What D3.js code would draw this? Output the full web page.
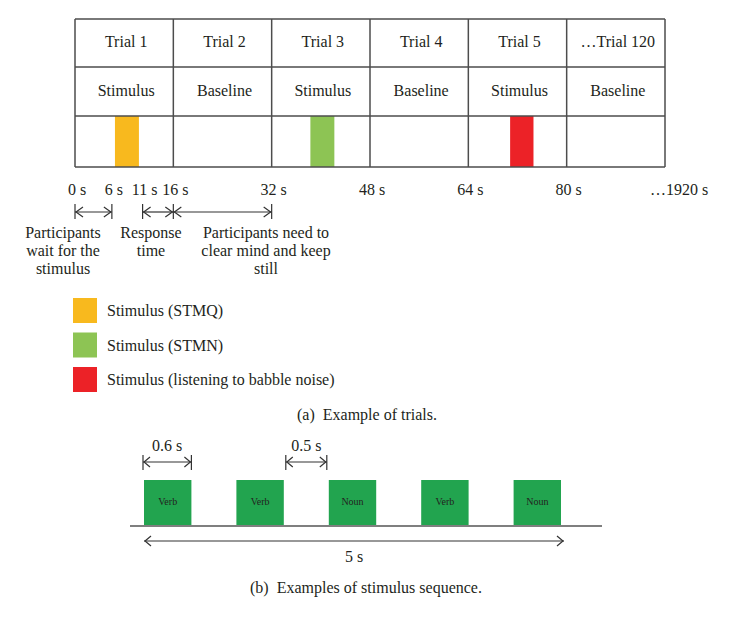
<!DOCTYPE html>
<html>
<head>
<meta charset="utf-8">
<script src="https://cdn.jsdelivr.net/npm/d3@7"></script>
<style>
  html, body { margin: 0; padding: 0; background: #fff; }
  svg text { font-family: "Liberation Serif", "DejaVu Serif", serif; fill: #231f20; }
</style>
</head>
<body>
<svg id="chart" width="750" height="617"></svg>
<script>
// ---------- data ----------
const trialLabels = ["Trial 1", "Trial 2", "Trial 3", "Trial 4", "Trial 5", "\u2026Trial 120"];
const trialConditions = ["Stimulus", "Baseline", "Stimulus", "Baseline", "Stimulus", "Baseline"];
const trialDuration = 16; // seconds per trial

const stimTrialIndex = [0, 2, 4];
const stimStart = [6.5, 6.3, 6.8];   // seconds after trial onset
const stimEnd = [10.4, 10.2, 10.6];
const stimColors = ["#f8b91e", "#8dc454", "#ec2227"];

const timeTicks = [0, 6, 11, 16, 32, 48, 64, 80];
const timeTickLabels = ["0 s", "6 s", "11 s", "16 s", "32 s", "48 s", "64 s", "80 s"];
const finalTickLabel = "\u20261920 s";

const phaseStart = [0, 11, 16];
const phaseEnd = [6, 16, 32];
const phaseLabels = [
  ["Participants", "wait for the", "stimulus"],
  ["Response", "time"],
  ["Participants need to", "clear mind and keep", "still"]
];
const phaseLabelCenter = [63, 151, 266];

const legendLabels = ["Stimulus (STMQ)", "Stimulus (STMN)", "Stimulus (listening to babble noise)"];

const seqWords = ["Verb", "Verb", "Noun", "Verb", "Noun"];
const seqStimDur = 0.6;
const seqGap = 0.5;
const seqTotal = 5;

// ---------- drawing ----------
const svg = d3.select("#chart");
const lineCol = "#4d4d4d";

// Part (a)
const x = d3.scaleLinear().domain([0, trialDuration * trialLabels.length]).range([75, 665]);
const rowY = [19, 67, 116, 167];

const gA = svg.append("g");

gA.selectAll("rect.stim").data(stimTrialIndex).enter().append("rect")
  .attr("class", "stim")
  .attr("x", (d, i) => x(d * trialDuration + stimStart[i]))
  .attr("width", (d, i) => x(d * trialDuration + stimEnd[i]) - x(d * trialDuration + stimStart[i]))
  .attr("y", rowY[2])
  .attr("height", rowY[3] - rowY[2])
  .attr("fill", (d, i) => stimColors[i]);

rowY.forEach(y => {
  gA.append("line").attr("x1", x(0)).attr("x2", x(96)).attr("y1", y).attr("y2", y)
    .attr("stroke", lineCol).attr("stroke-width", 1.5);
});
d3.range(trialLabels.length + 1).forEach(i => {
  gA.append("line").attr("x1", x(i * trialDuration)).attr("x2", x(i * trialDuration))
    .attr("y1", rowY[0]).attr("y2", rowY[3])
    .attr("stroke", lineCol).attr("stroke-width", 1.5);
});

gA.selectAll("text.trial").data(trialLabels).enter().append("text")
  .attr("x", (d, i) => x((i + 0.5) * trialDuration) + 2)
  .attr("y", 47)
  .attr("text-anchor", "middle")
  .attr("font-size", 16)
  .text(d => d);

gA.selectAll("text.cond").data(trialConditions).enter().append("text")
  .attr("x", (d, i) => x((i + 0.5) * trialDuration) + 2)
  .attr("y", 96)
  .attr("text-anchor", "middle")
  .attr("font-size", 16)
  .text(d => d);

gA.selectAll("text.tick").data(timeTicks).enter().append("text")
  .attr("x", d => x(d) + 2)
  .attr("y", 195)
  .attr("text-anchor", "middle")
  .attr("font-size", 16)
  .text((d, i) => timeTickLabels[i]);
gA.append("text").attr("x", 650).attr("y", 195).attr("font-size", 16).text(finalTickLabel);

const arrowY = 212;
const arrowCol = "#333";
function chevron(px, dir) {
  return `M${px - dir * 7},${arrowY - 5}L${px},${arrowY}L${px - dir * 7},${arrowY + 5}`;
}
phaseStart.forEach((s, i) => {
  const x1 = x(s), x2 = x(phaseEnd[i]);
  gA.append("line").attr("x1", x1).attr("x2", x2).attr("y1", arrowY).attr("y2", arrowY)
    .attr("stroke", arrowCol).attr("stroke-width", 1.2);
  gA.append("path").attr("d", chevron(x1 + 1, -1)).attr("fill", "none").attr("stroke", arrowCol).attr("stroke-width", 1.2);
  gA.append("path").attr("d", chevron(x2 - 1, 1)).attr("fill", "none").attr("stroke", arrowCol).attr("stroke-width", 1.2);
  [x1, x2].forEach((xx, k) => {
    if (i === 1 && k === 1) return;
    gA.append("line").attr("x1", xx).attr("x2", xx).attr("y1", arrowY - 8).attr("y2", arrowY + 7)
      .attr("stroke", arrowCol).attr("stroke-width", 1.2);
  });
});
phaseLabels.forEach((lines, i) => {
  const t = gA.append("text").attr("text-anchor", "middle").attr("font-size", 16);
  lines.forEach((ln, j) => {
    t.append("tspan").attr("x", phaseLabelCenter[i]).attr("y", 238 + j * 18).text(ln);
  });
});

const legY = d3.scalePoint().domain(legendLabels).range([298, 367]);
const leg = gA.selectAll("g.leg").data(legendLabels).enter().append("g")
  .attr("transform", d => `translate(73,${legY(d)})`);
leg.append("rect").attr("width", 24).attr("height", 25).attr("fill", (d, i) => stimColors[i]);
leg.append("text").attr("x", 34).attr("y", 18).attr("font-size", 16).text(d => d);

svg.append("text").attr("x", 367).attr("y", 420).attr("text-anchor", "middle")
  .attr("font-size", 16).attr("xml:space", "preserve").text("(a)  Example of trials.");

// Part (b)
const xs = d3.scaleLinear().domain([0, seqTotal]).range([144, 564]);
const gB = svg.append("g");
const baseY = 526, boxTop = 480;

gB.append("line").attr("x1", 130).attr("x2", 602).attr("y1", baseY).attr("y2", baseY)
  .attr("stroke", "#555").attr("stroke-width", 1.5);

const starts = seqWords.map((w, i) => i * (seqStimDur + seqGap));
const boxW = xs(seqStimDur) - xs(0) - 3;
gB.selectAll("rect.box").data(seqWords).enter().append("rect")
  .attr("x", (d, i) => xs(starts[i]))
  .attr("width", boxW)
  .attr("y", boxTop)
  .attr("height", baseY - boxTop - 1)
  .attr("fill", "#22a44f");
gB.selectAll("text.word").data(seqWords).enter().append("text")
  .attr("x", (d, i) => xs(starts[i]) + boxW / 2)
  .attr("y", 505)
  .attr("text-anchor", "middle")
  .attr("font-size", 10)
  .text(d => d);

function dimArrow(g, xa, xb, y, label, labelY, ticks, tickTop, tickBot) {
  g.append("line").attr("x1", xa).attr("x2", xb).attr("y1", y).attr("y2", y)
    .attr("stroke", arrowCol).attr("stroke-width", 1.2);
  g.append("path").attr("d", `M${xa + 7},${y - 5}L${xa + 1},${y}L${xa + 7},${y + 5}`)
    .attr("fill", "none").attr("stroke", arrowCol).attr("stroke-width", 1.2);
  g.append("path").attr("d", `M${xb - 7},${y - 5}L${xb - 1},${y}L${xb - 7},${y + 5}`)
    .attr("fill", "none").attr("stroke", arrowCol).attr("stroke-width", 1.2);
  if (ticks) {
    [xa, xb].forEach(xx => g.append("line").attr("x1", xx).attr("x2", xx)
      .attr("y1", tickTop).attr("y2", tickBot).attr("stroke", arrowCol).attr("stroke-width", 1.2));
  }
  g.append("text").attr("x", (xa + xb) / 2).attr("y", labelY).attr("text-anchor", "middle")
    .attr("font-size", 16).text(label);
}

dimArrow(gB, xs(0) - 1, xs(seqStimDur) - 3, 462, seqStimDur + " s", 451, true, 455, 470);
const gapStart = starts[1] + seqStimDur;
dimArrow(gB, xs(gapStart) - 1, xs(gapStart + seqGap) - 2, 462, seqGap + " s", 451, true, 455, 470);
dimArrow(gB, xs(0), xs(seqTotal), 541, seqTotal + " s", 562, false);

svg.append("text").attr("x", 366).attr("y", 593).attr("text-anchor", "middle")
  .attr("font-size", 16).attr("xml:space", "preserve").text("(b)  Examples of stimulus sequence.");
</script>
</body>
</html>
